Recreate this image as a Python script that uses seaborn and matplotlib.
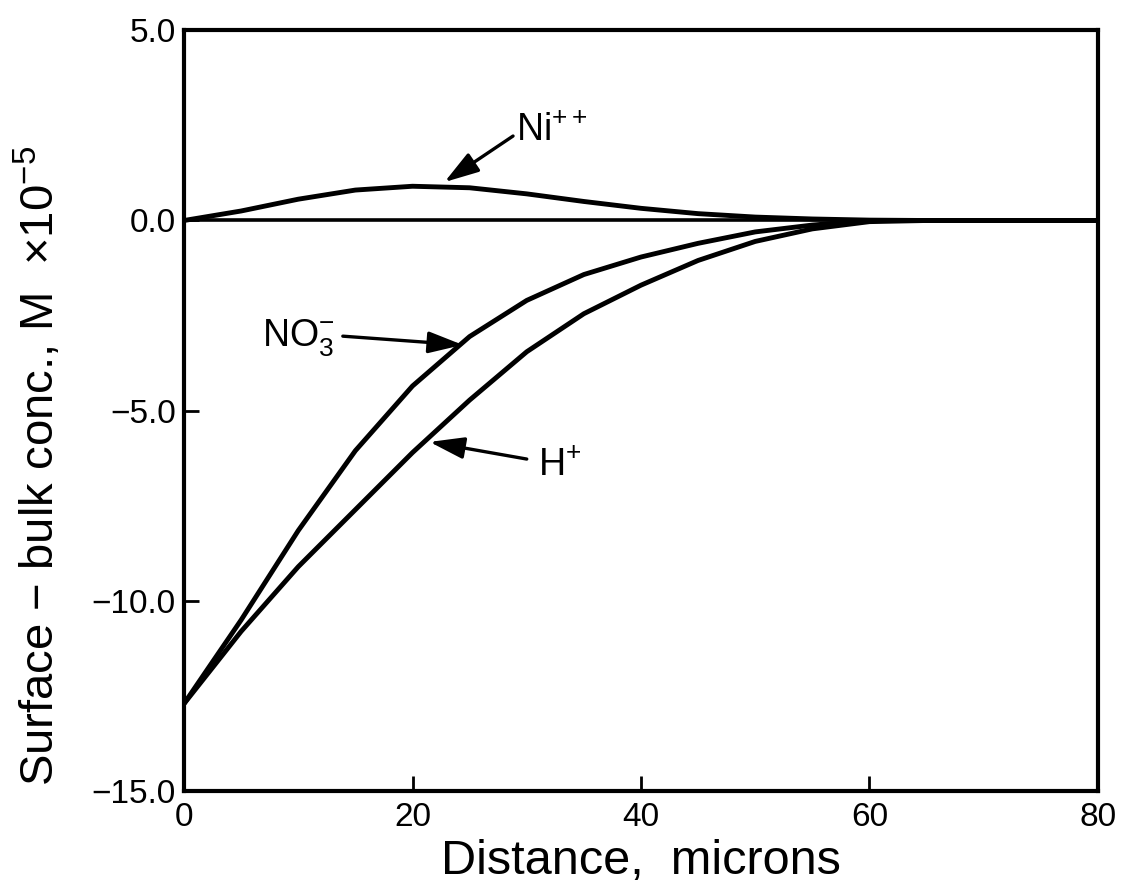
import matplotlib
matplotlib.use("Agg")
import matplotlib.pyplot as plt
import seaborn as sns
import pandas as pd

# Distance from the electrode surface, microns
distance = [0, 5, 10, 15, 20, 25, 30, 35, 40, 45, 50, 55, 60, 65, 70, 75, 80]

# Surface - bulk concentration (M x 1e-5) for each ion
ni_conc = [0.0, 0.25, 0.56, 0.80, 0.90, 0.86, 0.70, 0.50, 0.32, 0.18, 0.09, 0.04, 0.01, 0.0, 0.0, 0.0, 0.0]
no3_conc = [-12.7, -10.5, -8.15, -6.05, -4.35, -3.05, -2.10, -1.42, -0.96, -0.60, -0.30, -0.12, 0.0, 0.0, 0.0, 0.0, 0.0]
h_conc = [-12.7, -10.8, -9.1, -7.6, -6.1, -4.72, -3.45, -2.45, -1.70, -1.05, -0.55, -0.22, -0.03, 0.0, 0.0, 0.0, 0.0]

ions = ["Ni", "NO3", "H"]
x_ticks = [0, 20, 40, 60, 80]
y_ticks = [5.0, 0.0, -5.0, -10.0, -15.0]

df = pd.DataFrame({
    "distance": distance * 3,
    "conc": ni_conc + no3_conc + h_conc,
    "ion": [ions[0]] * len(distance) + [ions[1]] * len(distance) + [ions[2]] * len(distance),
})

sns.set_style("ticks")
plt.rcParams["font.family"] = ["Liberation Sans", "DejaVu Sans"]
plt.rcParams["mathtext.fontset"] = "custom"
plt.rcParams["mathtext.rm"] = "Liberation Sans"
plt.rcParams["mathtext.it"] = "Liberation Sans"
plt.rcParams["mathtext.bf"] = "Liberation Sans:bold"
for key in ("text.color", "axes.labelcolor", "xtick.color", "ytick.color", "axes.edgecolor"):
    plt.rcParams[key] = "black"

fig = plt.figure(figsize=(11.22, 8.90), dpi=100)
ax = fig.add_axes([0.164, 0.111, 0.8146, 0.855])

# zero reference line
ax.axhline(0.0, color="black", lw=2.6, zorder=1)

sns.lineplot(data=df, x="distance", y="conc", hue="ion",
             palette={"Ni": "black", "NO3": "black", "H": "black"},
             linewidth=3.5, legend=False, ax=ax, zorder=2)

ax.set_xlim(0, 80)
ax.set_ylim(-15, 5)
ax.set_xticks(x_ticks)
ax.set_yticks(y_ticks)
ax.set_yticklabels([f"{v:.1f}".replace("-", "\u2212") for v in y_ticks])
ax.tick_params(axis="both", direction="in", length=11, width=2.0, labelsize=24, color="black")
ax.tick_params(axis="x", pad=8)
ax.tick_params(axis="y", pad=6)
for sp in ax.spines.values():
    sp.set_linewidth(3.0)
    sp.set_color("black")
    sp.set_visible(True)

ax.set_xlabel("Distance,  microns", fontsize=35, labelpad=4)
ax.set_ylabel("Surface \u2212 bulk conc., M  \u00d710$^{-5}$", fontsize=34)
ax.yaxis.set_label_coords(-0.131, 0.428)

arrow = dict(arrowstyle="-|>,head_length=0.7,head_width=0.22", color="black",
             lw=2.4, mutation_scale=30, shrinkA=0, shrinkB=0)

# Ni++ label
ax.annotate("", xy=(22.8, 1.01), xytext=(28.8, 2.22), arrowprops=arrow)
ax.text(29.1, 2.09, "Ni$^{++}$", fontsize=27, ha="left", va="baseline")

# NO3- label
ax.annotate("", xy=(24.4, -3.27), xytext=(13.9, -3.04), arrowprops=arrow)
ax.text(6.8, -3.32, "NO$_3^{\u2212}$", fontsize=27, ha="left", va="baseline")

# H+ label
ax.annotate("", xy=(21.5, -5.82), xytext=(30.0, -6.27), arrowprops=arrow)
ax.text(31.0, -6.71, "H$^{+}$", fontsize=27, ha="left", va="baseline")

fig.savefig("out.png", dpi=100)
